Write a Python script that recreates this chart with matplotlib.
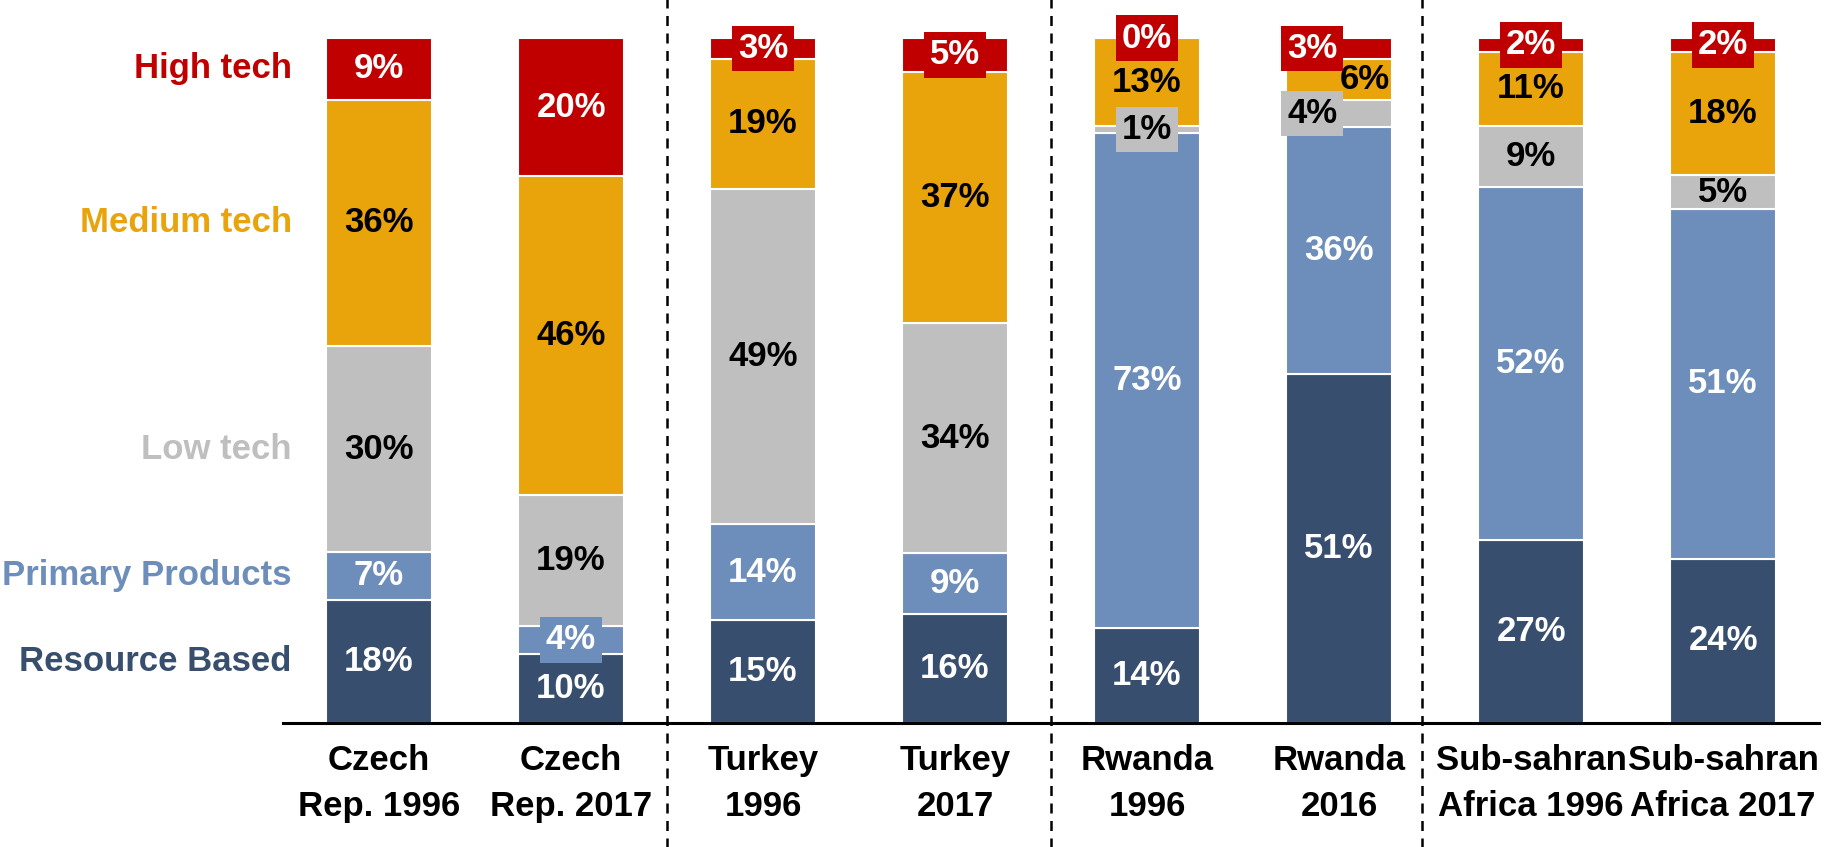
import numpy as np
import matplotlib
matplotlib.use('Agg')  # no display
import matplotlib.pyplot as plt

# -----------------------------------------------------------------------------
# Data: export shares by technology class (%), bottom to top of each bar
# -----------------------------------------------------------------------------
bars = ['Czech\nRep. 1996', 'Czech\nRep. 2017', 'Turkey\n1996', 'Turkey\n2017',
        'Rwanda\n1996', 'Rwanda\n2016', 'Sub-sahran\nAfrica 1996', 'Sub-sahran\nAfrica 2017']
categories = ['Resource Based', 'Primary Products', 'Low tech', 'Medium tech', 'High tech']

resource = [18, 10, 15, 16, 14, 51, 27, 24]
primary = [7, 4, 14, 9, 73, 36, 52, 51]
low = [30, 19, 49, 34, 1, 4, 9, 5]
medium = [36, 46, 19, 37, 13, 6, 11, 18]
high = [9, 20, 3, 5, 0, 3, 2, 2]

# -----------------------------------------------------------------------------
# Styling
# -----------------------------------------------------------------------------
colors = ['#374E6E', '#6D8EBA', '#BFBFBF', '#E9A30B', '#C00000']
text_colors = ['white', 'white', 'black', 'black', 'white']

# labels drawn with a background box (bar index, category index)
boxed = {(1, 1), (2, 4), (3, 4), (4, 4), (4, 2), (5, 4), (5, 2), (6, 4), (7, 4)}
# horizontal nudges for crowded labels (bar index, category index) -> data units
nudge = {(5, 4): -0.14, (5, 2): -0.14, (5, 3): 0.135}

plt.rcParams['font.family'] = ['Liberation Sans', 'DejaVu Sans']
plt.rcParams['font.weight'] = 'bold'
FS = 25

fig = plt.figure(figsize=(18.34, 8.47), dpi=100)
ax = fig.add_axes([283 / 1834, 124 / 847, 1536 / 1834, 685 / 847])

series = [resource, primary, low, medium, high]
data = np.array(series, dtype=float)
totals = data.sum(axis=0)
shares = data / totals * 100  # 100% stacked

x = np.arange(len(bars))
bottom = np.zeros(len(bars))
first_centers = []
for k, (name, col) in enumerate(zip(categories, colors)):
    h = shares[k]
    ax.bar(x, h, bottom=bottom, width=0.55, color=col, edgecolor='white', linewidth=1.5, zorder=2)
    centers = bottom + h / 2
    first_centers.append(centers[0])
    for i in range(len(bars)):
        box = None
        if (i, k) in boxed:
            box = dict(boxstyle='square,pad=0.18', fc=col, ec='none')
        ax.text(x[i] + nudge.get((i, k), 0), centers[i], f'{series[k][i]}%',
                ha='center', va='center', fontsize=FS, color=text_colors[k],
                bbox=box, zorder=5, clip_on=False)
    bottom += h

# category names on the left, aligned with the first bar's segments
for name, col, yc in zip(categories, colors, first_centers):
    ax.text(-0.455, yc, name, ha='right', va='center', fontsize=FS, color=col, clip_on=False)

# group separators
for xv in [1.5, 3.5, 5.43]:
    ax.axvline(xv, ymin=-0.25, ymax=1.25, color='black', lw=1.8, dashes=(4, 3), clip_on=False)

ax.set_xlim(-0.5, 7.5)
ax.set_ylim(0, 100)
ax.set_xticks(x)
ax.set_xticklabels(bars, fontsize=FS, linespacing=1.5)
ax.tick_params(axis='x', length=0, pad=15)
ax.set_yticks([])
for side in ['top', 'left', 'right']:
    ax.spines[side].set_visible(False)
ax.spines['bottom'].set_linewidth(2.2)
ax.spines['bottom'].set_color('black')

fig.savefig('out.png', dpi=100)
plt.close()
